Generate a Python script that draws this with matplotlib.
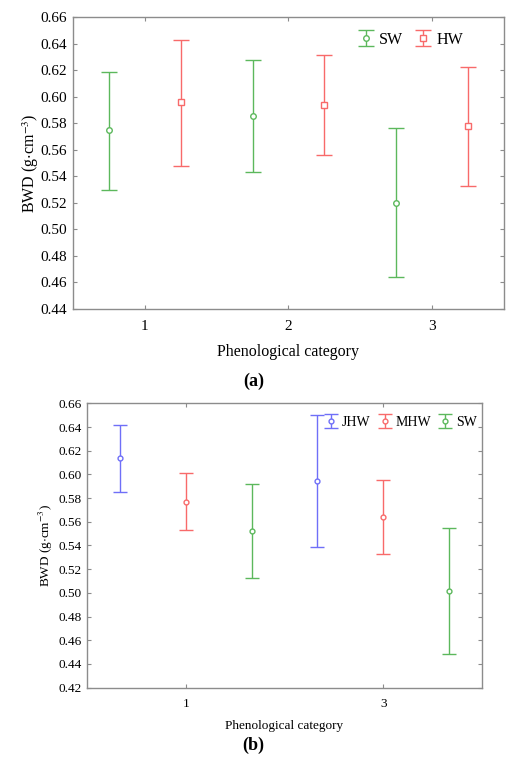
import matplotlib
matplotlib.use("Agg")
import matplotlib.pyplot as plt
import numpy as np

plt.rcParams["font.family"] = ["Liberation Serif", "DejaVu Serif"]
plt.rcParams["mathtext.fontset"] = "stix"

GREEN = "#5cb85c"
RED = "#f86a6a"
BLUE = "#6f6ff8"
SPINE = "#8c8c8c"

# panel (a): softwood / hardwood by phenological category
A_CATS = [1, 2, 3]
A_SW_MEAN = [0.575, 0.5855, 0.520]
A_SW_LOW = [0.530, 0.543, 0.464]
A_SW_HIGH = [0.619, 0.628, 0.5765]
A_HW_MEAN = [0.596, 0.594, 0.578]
A_HW_LOW = [0.548, 0.5565, 0.533]
A_HW_HIGH = [0.643, 0.632, 0.6225]

# panel (b): JHW / MHW / SW for categories 1 and 3
B_CATS = [1, 3]
B_JHW_MEAN = [0.6135, 0.5945]
B_JHW_LOW = [0.585, 0.5385]
B_JHW_HIGH = [0.6415, 0.650]
B_MHW_MEAN = [0.577, 0.564]
B_MHW_LOW = [0.553, 0.5325]
B_MHW_HIGH = [0.601, 0.5955]
B_SW_MEAN = [0.5525, 0.5015]
B_SW_LOW = [0.5125, 0.448]
B_SW_HIGH = [0.592, 0.555]


def draw_series(ax, x, mean, low, high, color, marker, label, ms, cap):
    mean = np.array(mean)
    yerr = [mean - np.array(low), np.array(high) - mean]
    ax.errorbar(x, mean, yerr=yerr, fmt=marker, color=color, ecolor=color,
                mfc="white", mec=color, ms=ms, mew=1.0, elinewidth=1.0,
                capsize=cap, capthick=1.0, label=label)


def style_axes(ax, labelsize, xpad):
    for sp in ax.spines.values():
        sp.set_color(SPINE)
        sp.set_linewidth(1.0)
    ax.tick_params(direction="in", length=3, color=SPINE, labelsize=labelsize,
                   top=True, right=True, pad=4)
    ax.tick_params(axis="x", pad=xpad)


fig = plt.figure(figsize=(5.07, 7.59), dpi=100)

# ---- (a)
ax1 = fig.add_axes([0.144, 0.593, 0.850, 0.384])
off = 0.25
draw_series(ax1, np.array(A_CATS) - off, A_SW_MEAN, A_SW_LOW, A_SW_HIGH, GREEN, "o", "SW", 4, 5.5)
draw_series(ax1, np.array(A_CATS) + off, A_HW_MEAN, A_HW_LOW, A_HW_HIGH, RED, "s", "HW", 4, 5.5)
ax1.set_xlim(0.5, 3.5)
ax1.set_ylim(0.44, 0.66)
ax1.set_xticks(A_CATS)
ax1.set_yticks(np.arange(0.44, 0.661, 0.02))
ax1.yaxis.set_major_formatter(matplotlib.ticker.FormatStrFormatter("%.2f"))
style_axes(ax1, 11, 8)
ax1.set_xlabel("Phenological category", fontsize=11.5, labelpad=8)
ax1.set_ylabel(r"BWD (g$\cdot$cm$^{-3}$)", fontsize=11.5, labelpad=0)
ax1.legend(loc="upper right", ncol=2, frameon=False, fontsize=11.5,
           handlelength=0.9, columnspacing=0.8, handletextpad=0.4,
           bbox_to_anchor=(0.94, 1.0))
fig.text(0.5, 0.497, "(a)", ha="center", va="center", fontsize=13, fontweight="bold")

# ---- (b)
ax2 = fig.add_axes([0.1716, 0.094, 0.779, 0.3746])
off = 0.67
draw_series(ax2, np.array(B_CATS) - off, B_JHW_MEAN, B_JHW_LOW, B_JHW_HIGH, BLUE, "o", "JHW", 3.5, 5)
draw_series(ax2, np.array(B_CATS), B_MHW_MEAN, B_MHW_LOW, B_MHW_HIGH, RED, "o", "MHW", 3.5, 5)
draw_series(ax2, np.array(B_CATS) + off, B_SW_MEAN, B_SW_LOW, B_SW_HIGH, GREEN, "o", "SW", 3.5, 5)
ax2.set_xlim(0, 4)
ax2.set_ylim(0.42, 0.66)
ax2.set_xticks(B_CATS)
ax2.set_yticks(np.arange(0.42, 0.661, 0.02))
ax2.yaxis.set_major_formatter(matplotlib.ticker.FormatStrFormatter("%.2f"))
style_axes(ax2, 9.5, 7.5)
ax2.set_xlabel("Phenological category", fontsize=9.5, labelpad=7)
ax2.set_ylabel(r"BWD (g$\cdot$cm$^{-3}$)", fontsize=9.5, labelpad=2)
ax2.legend(loc="upper right", ncol=3, frameon=False, fontsize=10,
           handlelength=0.8, columnspacing=0.6, handletextpad=0.4,
           bbox_to_anchor=(1.02, 1.0))
fig.text(0.5, 0.018, "(b)", ha="center", va="center", fontsize=13, fontweight="bold")

fig.savefig("out.png", dpi=100)
